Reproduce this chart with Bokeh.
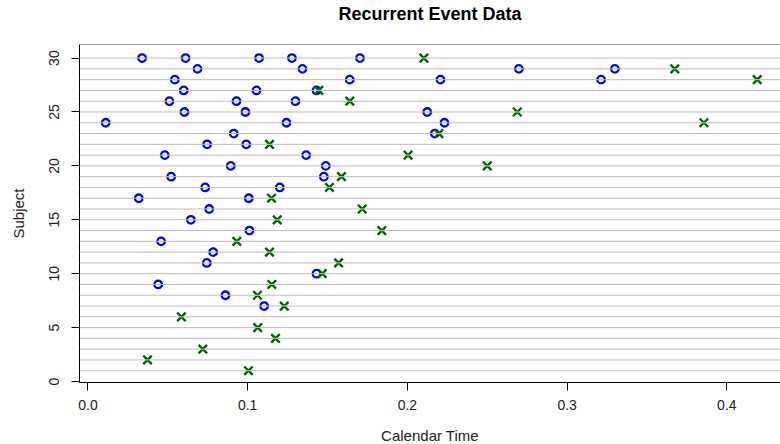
from bokeh.plotting import figure
from bokeh.models import Range1d, Span, NumeralTickFormatter, Label
from bokeh.embed import file_html
from bokeh.resources import INLINE

# Recurrent events per subject (calendar time of each event)
event_subject = [30, 30, 30, 30, 30,
                 29, 29, 29, 29,
                 28, 28, 28, 28,
                 27, 27, 27,
                 26, 26, 26,
                 25, 25, 25,
                 24, 24, 24,
                 23, 23,
                 22, 22,
                 21, 21,
                 20, 20,
                 19, 19,
                 18, 18,
                 17, 17,
                 16, 15, 14, 13, 12, 11, 10, 9, 8, 7]
event_time = [0.0339, 0.0611, 0.1071, 0.1277, 0.1703,
              0.0686, 0.1343, 0.2698, 0.3299,
              0.0544, 0.1639, 0.2207, 0.3213,
              0.0600, 0.1055, 0.1431,
              0.0510, 0.0930, 0.1299,
              0.0604, 0.0986, 0.2124,
              0.0111, 0.1243, 0.2232,
              0.0913, 0.2172,
              0.0746, 0.0991,
              0.0481, 0.1366,
              0.0894, 0.1489,
              0.0521, 0.1477,
              0.0734, 0.1201,
              0.0318, 0.1007,
              0.0759, 0.0644, 0.1011, 0.0458, 0.0784, 0.0744, 0.1431, 0.0440, 0.0861, 0.1103]

# End of follow-up for each subject
end_subject = list(range(30, 0, -1))
end_time = [0.2103, 0.3674, 0.4190, 0.1445, 0.1639, 0.2688, 0.3856, 0.2197, 0.1137, 0.2004,
            0.2500, 0.1587, 0.1512, 0.1149, 0.1717, 0.1185, 0.1840, 0.0932, 0.1137, 0.1569,
            0.1467, 0.1151, 0.1061, 0.1229, 0.0585, 0.1063, 0.1174, 0.0719, 0.0373, 0.1005]

x_ticks = [0.0, 0.1, 0.2, 0.3, 0.4]
y_ticks = [0, 5, 10, 15, 20, 25, 30]

FONT = "Liberation Sans"
Y_BOTTOM = -0.093
Y_TOP = 31.26
FRAME_W = 780 - 79

p = figure(width=780, height=444, output_backend="svg", toolbar_location=None,
           x_range=Range1d(-0.0053, 0.4336), y_range=Range1d(Y_BOTTOM, Y_TOP),
           min_border_left=79, min_border_right=0, min_border_top=44,
           min_border_bottom=62)

p.outline_line_color = None
p.grid.visible = False
p.background_fill_color = "white"
p.border_fill_color = "white"

# one line per subject
for s in end_subject:
    p.add_layout(Span(location=s, dimension="width", line_color="#bdbdbd", line_width=1))

# top border of the plotting box
p.add_layout(Span(location=Y_TOP, dimension="width", line_color="#444444", line_width=1))

p.scatter(event_time, event_subject, marker="circle", size=7.5, line_width=2.3,
          line_color="#0000ff", fill_color=None)
p.scatter(end_time, end_subject, marker="x", size=12, line_width=2.4,
          line_color="#006400")

for ax in (p.xaxis[0], p.yaxis[0]):
    ax.axis_line_color = "black"
    ax.axis_line_width = 1
    ax.major_tick_line_color = "black"
    ax.major_tick_in = 0
    ax.major_tick_out = 8
    ax.minor_tick_line_color = None
    ax.major_label_text_font = FONT
    ax.major_label_text_font_size = "14px"
    ax.major_label_text_color = "#222222"
    ax.axis_label_text_font = FONT
    ax.axis_label_text_font_size = "15px"
    ax.axis_label_text_font_style = "normal"
    ax.axis_label_text_color = "#222222"

p.xaxis.ticker = x_ticks
p.xaxis.formatter = NumeralTickFormatter(format="0.0")
p.xaxis.major_label_standoff = 9

p.yaxis.ticker = y_ticks
p.yaxis.major_label_orientation = "vertical"
p.yaxis.axis_label = "Subject"
p.yaxis.major_label_standoff = 12
p.yaxis.axis_label_standoff = 20

# chart title, in a strip above the box
p.add_layout(Label(x=FRAME_W / 2, y=31, x_units="screen", y_units="screen",
                   text="Recurrent Event Data", text_font=FONT, text_font_size="18px",
                   text_font_style="bold", text_color="#000000",
                   text_align="center", text_baseline="middle"),
             "above")

# x-axis title, in its own strip under the axis
p.add_layout(Label(x=FRAME_W / 2, y=-6, x_units="screen", y_units="screen",
                   text="Calendar Time", text_font=FONT, text_font_size="15px",
                   text_color="#222222", text_align="center", text_baseline="middle"),
             "below")

open("out.html", "w").write(file_html(p, INLINE))
